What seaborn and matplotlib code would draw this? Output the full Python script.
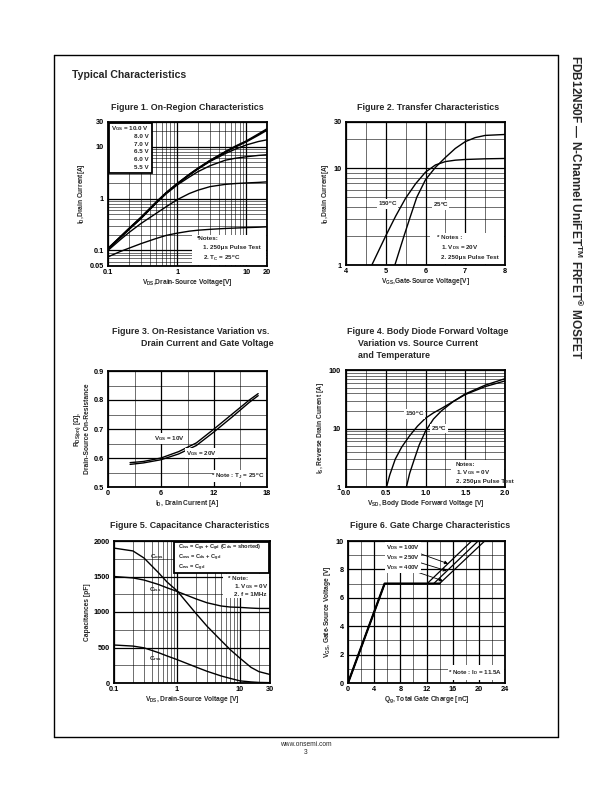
import matplotlib
matplotlib.use("Agg")
import matplotlib.pyplot as plt
import seaborn as sns
from matplotlib.patches import Rectangle
from matplotlib.lines import Line2D
from matplotlib.ticker import NullFormatter

# --- Data ---
# Figure 1: on-region characteristics (log-log)
vds1 = [0.1, 0.15, 0.2, 0.3, 0.5, 0.7, 1, 1.5, 2, 3, 5, 7, 10, 15, 20]
id_10v = [0.108, 0.18, 0.26, 0.43, 0.85, 1.3, 1.92, 2.9, 3.8, 5.4, 8.0, 10.2, 12.8, 17.5, 22.0]
id_8v = [0.108, 0.18, 0.26, 0.43, 0.85, 1.3, 1.92, 2.9, 3.8, 5.4, 7.9, 10.0, 12.5, 16.8, 21.0]
id_7v = [0.106, 0.178, 0.255, 0.42, 0.84, 1.28, 1.9, 2.85, 3.7, 5.2, 7.4, 9.0, 10.8, 12.6, 13.6]
id_65v = [0.105, 0.175, 0.25, 0.41, 0.82, 1.25, 1.82, 2.6, 3.3, 4.3, 5.5, 6.0, 6.4, 6.8, 7.0]
id_6v = [0.1, 0.16, 0.22, 0.33, 0.52, 0.7, 0.95, 1.25, 1.45, 1.7, 1.88, 1.95, 2.0, 2.05, 2.1]
id_55v = [0.075, 0.095, 0.11, 0.135, 0.17, 0.195, 0.215, 0.235, 0.245, 0.255, 0.265, 0.27, 0.275, 0.28, 0.285]
vgs_legend = ["10.0 V", "8.0 V", "7.0 V", "6.5 V", "6.0 V", "5.5 V"]

# Figure 2: transfer characteristics
vgs_150 = [4.65, 5.0, 5.25, 5.5, 5.75, 6.0, 6.25, 6.5, 6.75, 7.0, 7.5, 8.0]
id_150 = [1.0, 2.0, 3.2, 4.9, 6.9, 9.1, 10.8, 11.7, 12.1, 12.3, 12.5, 12.6]
vgs_25 = [5.23, 5.46, 5.6, 5.78, 6.0, 6.25, 6.5, 6.75, 7.0, 7.25, 7.5, 8.0]
id_25 = [1.0, 2.0, 3.0, 5.0, 7.6, 10.2, 12.9, 16.0, 18.8, 20.7, 21.8, 22.3]

# Figure 3: on-resistance vs drain current
id3 = [2.5, 4, 6, 8, 10, 12, 14, 16, 17]
rds_10v = [0.584, 0.588, 0.600, 0.622, 0.652, 0.700, 0.750, 0.800, 0.822]
rds_20v = [0.578, 0.583, 0.594, 0.614, 0.643, 0.690, 0.740, 0.792, 0.815]

# Figure 4: body diode forward voltage
vsd_150 = [0.51, 0.55, 0.62, 0.7, 0.8, 0.9, 1.0, 1.1, 1.2, 1.35, 1.5, 1.75, 2.0]
is_150 = [1.0, 1.6, 3.0, 4.8, 7.5, 11.0, 15.0, 18.5, 22.0, 29, 38, 52, 65]
vsd_25 = [0.76, 0.8, 0.86, 0.92, 1.0, 1.1, 1.2, 1.35, 1.5, 1.75, 2.0]
is_25 = [1.0, 1.7, 3.0, 5.2, 9.0, 14.5, 20.0, 29.0, 39.0, 55, 71]

# Figure 5: capacitances
vds5 = [0.1, 0.2, 0.3, 0.5, 0.7, 1, 2, 3, 5, 7, 10, 15, 20, 30]
coss = [1900, 1860, 1760, 1560, 1420, 1300, 980, 800, 600, 470, 350, 220, 160, 120]
ciss = [1500, 1480, 1450, 1390, 1340, 1290, 1185, 1130, 1085, 1070, 1065, 1055, 1050, 1050]
crss = [535, 520, 495, 430, 380, 330, 225, 165, 100, 65, 30, 15, 8, 5]

# Figure 6: gate charge
qg_100 = [0, 5.6, 12.1, 18.9]
qg_250 = [0, 5.6, 13.1, 19.9]
qg_400 = [0, 5.6, 14.0, 20.9]
vgs6 = [0, 7, 7, 10]
vds_labels = ["100V", "250V", "400V"]

# --- Style ---
sns.set_theme(style="white")
plt.rcParams["font.family"] = ["Liberation Sans", "DejaVu Sans"]
plt.rcParams["font.weight"] = "bold"
plt.rcParams["mathtext.fontset"] = "custom"
plt.rcParams["mathtext.rm"] = "Liberation Sans:bold"
plt.rcParams["mathtext.it"] = "Liberation Sans:bold"
plt.rcParams["mathtext.bf"] = "Liberation Sans:bold"
plt.rcParams["mathtext.sf"] = "Liberation Sans:bold"

W, H = 612, 792
fig = plt.figure(figsize=(W / 100, H / 100), dpi=100)
fig.patch.set_facecolor("white")

TICK = 5.3
LAB = 4.8
NOTE = 4.5
TITLE = 6.4


def make_axes(x0, y0, x1, y1):
    return fig.add_axes([x0 / W, 1 - y1 / H, (x1 - x0) / W, (y1 - y0) / H])


def style_axes(ax, xmaj, xlab, xmin, ymaj, ylab, ymin):
    ax.set_xticks(xmaj)
    ax.set_xticklabels(xlab)
    ax.set_xticks(xmin, minor=True)
    ax.set_yticks(ymaj)
    ax.set_yticklabels(ylab)
    ax.set_yticks(ymin, minor=True)
    ax.xaxis.set_minor_formatter(NullFormatter())
    ax.yaxis.set_minor_formatter(NullFormatter())
    ax.tick_params(which="both", length=0, labelsize=TICK, pad=2, colors="black")
    ax.tick_params(axis="y", pad=3)
    ax.grid(True, which="major", color="black", lw=0.9)
    ax.grid(True, which="minor", color="black", lw=0.4)
    ax.set_axisbelow(True)
    for s in ax.spines.values():
        s.set_color("black")
        s.set_linewidth(1.3)
        s.set_visible(True)
    for t in ax.get_xticklabels() + ax.get_yticklabels():
        t.set_fontweight("bold")


def white_box(ax, x0, y0, x1, y1, edge=False):
    ax.add_patch(Rectangle((x0, y0), x1 - x0, y1 - y0, transform=ax.transAxes,
                           facecolor="white", edgecolor="black" if edge else "none",
                           lw=1.3, zorder=5))


def curve(ax, x, y, lw=1.0):
    sns.lineplot(x=x, y=y, ax=ax, color="black", lw=lw, sort=False,
                 estimator=None, zorder=3)


def title(x, y, s, ha="center"):
    fig.text(x / W, 1 - y / H, s, ha=ha, va="center", fontsize=TITLE, fontweight="bold")


# --- Page frame ---
for (xa, ya, xb, yb) in [(54, 55, 558, 55), (54, 55, 54, 737), (558, 55, 558, 737), (54, 737, 558, 737)]:
    fig.add_artist(Line2D([xa / W, xb / W], [1 - ya / H, 1 - yb / H], color="black", lw=1.0))
fig.text(72 / W, 1 - 75 / H, "Typical Characteristics", ha="left", va="center",
         fontsize=7.6, fontweight="bold")
fig.text(576 / W, 1 - 55 / H,
         r"FDB12N50F — N-Channel UniFET$^{\rm TM}$ FRFET$^{\circledR}$ MOSFET",
         rotation=270, ha="center", va="top", fontsize=8.6, fontweight="bold")
fig.text(306 / W, 1 - 744 / H, "www.onsemi.com", ha="center", va="center", fontsize=4.8,
         fontweight="normal")
fig.text(306 / W, 1 - 752 / H, "3", ha="center", va="center", fontsize=4.8, fontweight="normal")

# --- Figure 1 ---
title(187, 108, "Figure 1. On-Region Characteristics")
ax1 = make_axes(108, 122, 267, 266)
ax1.set_xscale("log")
ax1.set_yscale("log")
for ys in [id_10v, id_8v]:
    curve(ax1, vds1, ys, lw=1.3)
for ys in [id_7v, id_65v, id_6v, id_55v]:
    curve(ax1, vds1, ys)
ax1.set_xlim(0.1, 20)
ax1.set_ylim(0.05, 30)
style_axes(ax1, [0.1, 1, 10, 20], ["0.1", "1", "10", "20"],
           [0.2, 0.3, 0.4, 0.5, 0.6, 0.7, 0.8, 0.9, 2, 3, 4, 5, 6, 7, 8, 9],
           [0.05, 0.1, 1, 10, 30], ["0.05", "0.1", "1", "10", "30"],
           [0.06, 0.07, 0.08, 0.09, 0.2, 0.3, 0.4, 0.5, 0.6, 0.7, 0.8, 0.9,
            2, 3, 4, 5, 6, 7, 8, 9, 20])
ax1.set_xlabel(r"V$_{DS}$,Drain-Source Voltage[V]", fontsize=LAB, fontweight="bold", labelpad=1)
ax1.set_ylabel(r"I$_D$,Drain Current[A]", fontsize=LAB, fontweight="bold", labelpad=2)
white_box(ax1, 0.005, 0.645, 0.275, 0.995, edge=True)
for i, lab in enumerate(vgs_legend):
    s = r"V$_{GS}$ = " + lab if i == 0 else lab
    ax1.text(0.255, 0.955 - i * 0.054, s, transform=ax1.transAxes, ha="right", va="center",
             fontsize=NOTE, fontweight="bold", zorder=6)
white_box(ax1, 0.53, 0.005, 0.995, 0.215)
ax1.text(0.56, 0.19, "*Notes:", transform=ax1.transAxes, fontsize=NOTE, va="center", zorder=6)
ax1.text(0.6, 0.125, "1. 250μs Pulse Test", transform=ax1.transAxes, fontsize=NOTE,
         va="center", zorder=6)
ax1.text(0.6, 0.055, r"2. T$_C$ = 25$^{o}$C", transform=ax1.transAxes, fontsize=NOTE,
         va="center", zorder=6)

# --- Figure 2 ---
title(428, 108, "Figure 2. Transfer Characteristics")
ax2 = make_axes(346, 122, 505, 265)
ax2.set_yscale("log")
curve(ax2, vgs_150, id_150)
curve(ax2, vgs_25, id_25)
ax2.set_xlim(4, 8)
ax2.set_ylim(1, 30)
style_axes(ax2, [4, 5, 6, 7, 8], ["4", "5", "6", "7", "8"], [4.5, 5.5, 6.5, 7.5],
           [1, 10, 30], ["1", "10", "30"], [2, 3, 4, 5, 6, 7, 8, 9, 20])
ax2.set_xlabel(r"V$_{GS}$,Gate-Source Voltage[V]", fontsize=LAB, fontweight="bold", labelpad=1)
ax2.set_ylabel(r"I$_D$,Drain Current[A]", fontsize=LAB, fontweight="bold", labelpad=2)
bb = dict(facecolor="white", edgecolor="none", pad=0.6)
ax2.text(5.05, 4.3, r"150$^{o}$C", fontsize=NOTE, ha="center", va="center", bbox=bb, zorder=6)
ax2.text(6.38, 4.2, r"25$^{o}$C", fontsize=NOTE, ha="center", va="center", bbox=bb, zorder=6)
white_box(ax2, 0.53, 0.005, 0.995, 0.225)
ax2.text(0.57, 0.19, "* Notes :", transform=ax2.transAxes, fontsize=NOTE, va="center", zorder=6)
ax2.text(0.6, 0.12, r"1. V$_{DS}$ = 20V", transform=ax2.transAxes, fontsize=NOTE,
         va="center", zorder=6)
ax2.text(0.6, 0.05, "2. 250μs Pulse Test", transform=ax2.transAxes, fontsize=NOTE,
         va="center", zorder=6)

# --- Figure 3 ---
title(191, 331, "Figure 3. On-Resistance Variation vs.")
title(207, 344, "Drain Current and Gate Voltage")
ax3 = make_axes(108, 371, 267, 487)
curve(ax3, id3, rds_10v)
curve(ax3, id3, rds_20v)
ax3.set_xlim(0, 18)
ax3.set_ylim(0.5, 0.9)
style_axes(ax3, [0, 6, 12, 18], ["0", "6", "12", "18"], [3, 9, 15],
           [0.5, 0.6, 0.7, 0.8, 0.9], ["0.5", "0.6", "0.7", "0.8", "0.9"],
           [0.55, 0.65, 0.75, 0.85])
ax3.set_xlabel(r"I$_D$, Drain Current [A]", fontsize=LAB, fontweight="bold", labelpad=1)
ax3.set_ylabel("R$_{DS(on)}$ [Ω],\nDrain-Source On-Resistance", fontsize=LAB,
               fontweight="bold", labelpad=2)
ax3.text(7.0, 0.667, r"V$_{GS}$ = 10V", fontsize=NOTE, ha="center", va="center", bbox=bb, zorder=6)
ax3.text(10.6, 0.617, r"V$_{GS}$ = 20V", fontsize=NOTE, ha="center", va="center", bbox=bb, zorder=6)
white_box(ax3, 0.66, 0.04, 0.995, 0.15)
ax3.text(0.985, 0.095, r"* Note : T$_J$ = 25$^{o}$C", transform=ax3.transAxes, fontsize=NOTE,
         ha="right", va="center", zorder=6)

# --- Figure 4 ---
title(428, 331, "Figure 4. Body Diode Forward Voltage")
title(358, 343, "Variation vs. Source Current", ha="left")
title(358, 356, "and Temperature", ha="left")
ax4 = make_axes(346, 370, 505, 487)
ax4.set_yscale("log")
curve(ax4, vsd_150, is_150)
curve(ax4, vsd_25, is_25)
ax4.set_xlim(0, 2.0)
ax4.set_ylim(1, 100)
style_axes(ax4, [0, 0.5, 1.0, 1.5, 2.0], ["0.0", "0.5", "1.0", "1.5", "2.0"],
           [0.25, 0.75, 1.25, 1.75], [1, 10, 100], ["1", "10", "100"],
           [2, 3, 4, 5, 6, 7, 8, 9, 20, 30, 40, 50, 60, 70, 80, 90])
ax4.tick_params(axis="y", pad=4)
ax4.set_xlabel(r"V$_{SD}$, Body Diode Forward Voltage [V]", fontsize=LAB, fontweight="bold",
               labelpad=1)
ax4.set_ylabel(r"I$_S$, Reverse Drain Current [A]", fontsize=LAB, fontweight="bold", labelpad=2)
ax4.text(0.86, 17.5, r"150$^{o}$C", fontsize=NOTE, ha="center", va="center", bbox=bb, zorder=6)
ax4.text(1.17, 10, r"25$^{o}$C", fontsize=NOTE, ha="center", va="center", bbox=bb, zorder=6)
white_box(ax4, 0.66, 0.005, 0.995, 0.23)
ax4.text(0.69, 0.19, "Notes:", transform=ax4.transAxes, fontsize=NOTE, va="center", zorder=6)
ax4.text(0.69, 0.12, r"1. V$_{GS}$ = 0V", transform=ax4.transAxes, fontsize=NOTE,
         va="center", zorder=6)
ax4.text(0.69, 0.05, "2. 250μs Pulse Test", transform=ax4.transAxes, fontsize=NOTE,
         va="center", zorder=6)

# --- Figure 5 ---
title(190, 525, "Figure 5. Capacitance Characteristics")
ax5 = make_axes(114, 541, 270, 683)
ax5.set_xscale("log")
curve(ax5, vds5, coss)
curve(ax5, vds5, ciss)
curve(ax5, vds5, crss)
ax5.set_xlim(0.1, 30)
ax5.set_ylim(0, 2000)
style_axes(ax5, [0.1, 1, 10, 30], ["0.1", "1", "10", "30"],
           [0.2, 0.3, 0.4, 0.5, 0.6, 0.7, 0.8, 0.9, 2, 3, 4, 5, 6, 7, 8, 9, 20],
           [0, 500, 1000, 1500, 2000], ["0", "500", "1000", "1500", "2000"],
           [250, 750, 1250, 1750])
ax5.set_xlabel(r"V$_{DS}$, Drain-Source Voltage [V]", fontsize=LAB, fontweight="bold", labelpad=1)
ax5.set_ylabel("Capacitances [pF]", fontsize=LAB, fontweight="bold", labelpad=2)
ax5.text(0.48, 1780, r"C$_{oss}$", fontsize=NOTE, ha="center", va="center", zorder=6)
ax5.text(0.45, 1320, r"C$_{iss}$", fontsize=NOTE, ha="center", va="center", zorder=6)
ax5.text(0.45, 350, r"C$_{rss}$", fontsize=NOTE, ha="center", va="center", zorder=6)
white_box(ax5, 0.385, 0.775, 0.995, 0.995, edge=True)
for i, s in enumerate([r"C$_{iss}$ = C$_{gs}$ + C$_{gd}$ (C$_{ds}$ = shorted)",
                       r"C$_{oss}$ = C$_{ds}$ + C$_{gd}$",
                       r"C$_{rss}$ = C$_{gd}$"]):
    ax5.text(0.41, 0.95 - i * 0.068, s, transform=ax5.transAxes, fontsize=4.1, va="center",
             zorder=6)
white_box(ax5, 0.7, 0.6, 0.995, 0.77)
ax5.text(0.73, 0.735, "* Note:", transform=ax5.transAxes, fontsize=NOTE, va="center", zorder=6)
ax5.text(0.77, 0.68, r"1. V$_{GS}$ = 0V", transform=ax5.transAxes, fontsize=NOTE,
         va="center", zorder=6)
ax5.text(0.77, 0.625, "2. f = 1MHz", transform=ax5.transAxes, fontsize=NOTE,
         va="center", zorder=6)

# --- Figure 6 ---
title(430, 525, "Figure 6. Gate Charge Characteristics")
ax6 = make_axes(348, 541, 505, 683)
for qg in [qg_100, qg_250, qg_400]:
    curve(ax6, qg, vgs6, lw=0.9)
curve(ax6, qg_400[:3], vgs6[:3], lw=1.6)
ax6.set_xlim(0, 24)
ax6.set_ylim(0, 10)
style_axes(ax6, [0, 4, 8, 12, 16, 20, 24], ["0", "4", "8", "12", "16", "20", "24"],
           [2, 6, 10, 14, 18, 22], [0, 2, 4, 6, 8, 10], ["0", "2", "4", "6", "8", "10"],
           [1, 3, 5, 7, 9])
ax6.set_xlabel(r"Q$_g$, Total Gate Charge [nC]", fontsize=LAB, fontweight="bold", labelpad=1)
ax6.set_ylabel(r"V$_{GS}$, Gate-Source Voltage [V]", fontsize=LAB, fontweight="bold", labelpad=2)
label_y = [9.55, 8.85, 8.15]
tips = [(15.3, 8.4), (15.1, 7.9), (14.5, 7.2)]
for lab, ly, tip in zip(vds_labels, label_y, tips):
    ax6.annotate(r"V$_{DS}$ = " + lab, xy=tip, xytext=(11.0, ly), ha="right", va="center",
                 fontsize=NOTE, zorder=6, bbox=bb,
                 arrowprops=dict(arrowstyle="-|>", color="black", lw=0.6,
                                 mutation_scale=5, shrinkA=0, shrinkB=0))
white_box(ax6, 0.64, 0.02, 0.995, 0.13)
ax6.text(0.985, 0.075, r"* Note : I$_D$ = 11.5A", transform=ax6.transAxes, fontsize=NOTE,
         ha="right", va="center", zorder=6)

fig.savefig("out.png", dpi=100, facecolor="white")
